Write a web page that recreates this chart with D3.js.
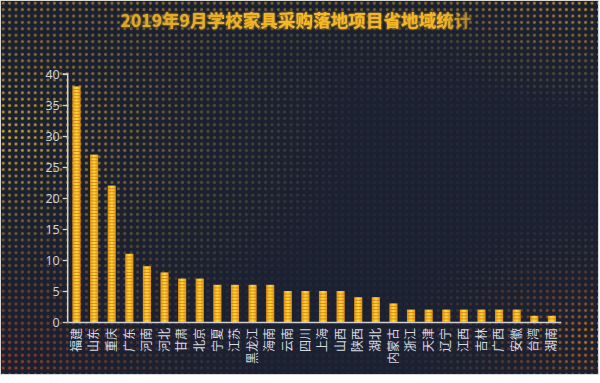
<!DOCTYPE html>
<html><head><meta charset="utf-8">
<script src="https://cdn.jsdelivr.net/npm/d3@7/dist/d3.min.js"></script>
<style>html,body{margin:0;padding:0;background:#fff;}svg{display:block;}</style>
</head><body>
<svg id="c" width="600" height="383"></svg>
<script>
const titleText = "2019年9月学校家具采购落地项目省地域统计";
const provinces = ["福建","山东","重庆","广东","河南","河北","甘肃","北京","宁夏","江苏","黑龙江","海南","云南","四川","上海","山西","陕西","湖北","内蒙古","浙江","天津","辽宁","江西","吉林","广西","安徽","台湾","湖南"];
const counts = [38,27,22,11,9,8,7,7,6,6,6,6,5,5,5,5,4,4,3,2,2,2,2,2,2,2,1,1];
const yTicks = [0,5,10,15,20,25,30,35,40];

const svg = d3.select("#c");
const defs = svg.append("defs");
const font = "'Noto Sans CJK SC','Noto Sans',sans-serif";

// frame
svg.append("rect").attr("x",0.5).attr("y",0.5).attr("width",598).attr("height",374)
  .attr("fill","#1c2131").attr("stroke","#d8d8d8");

// dot pattern
const pat = defs.append("pattern").attr("id","dots").attr("patternUnits","userSpaceOnUse")
  .attr("width",6.4).attr("height",6.4);
pat.append("circle").attr("cx",3.2).attr("cy",3.2).attr("r",1.5).attr("fill","#fff");
const mask = defs.append("mask").attr("id","dm");
mask.append("rect").attr("x",1).attr("y",1).attr("width",597).attr("height",373).attr("fill","url(#dots)");

function radial(id, cx, cy, r, stops){
  const g = defs.append("radialGradient").attr("id",id).attr("cx",cx).attr("cy",cy).attr("r",r);
  stops.forEach(s=>g.append("stop").attr("offset",s[0]).attr("stop-color",s[1]).attr("stop-opacity",s[2]));
}
radial("gTL","0","0.35","0.6",[["0","#d0a832",0.95],["0.5","#a88228",0.5],["1","#a07a28",0]]);
radial("gBL","0","1","0.45",[["0","#b4401c",0.9],["0.55","#9a4a1e",0.35],["1","#9a4a1e",0]]);
radial("gBR","1","0.9","0.33",[["0","#d8761c",0.95],["0.55","#a0501c",0.35],["1","#a0501c",0]]);
radial("gTR","1","0","0.3",[["0","#c08a2a",0.75],["1","#c08a2a",0]]);
const g4 = defs.append("linearGradient").attr("id","gT").attr("x1",0).attr("y1",0).attr("x2",0).attr("y2",1);
g4.append("stop").attr("offset","0").attr("stop-color","#b08a2a").attr("stop-opacity",0.65);
g4.append("stop").attr("offset","0.14").attr("stop-color","#8a6a28").attr("stop-opacity",0.2);
g4.append("stop").attr("offset","0.28").attr("stop-color","#8a6a28").attr("stop-opacity",0);

const dotG = svg.append("g").attr("mask","url(#dm)");
dotG.append("rect").attr("x",1).attr("y",1).attr("width",597).attr("height",373).attr("fill","#363b50").attr("opacity",0.3);
["gT","gTL","gBL","gBR","gTR"].forEach(id=>{
  dotG.append("rect").attr("x",1).attr("y",1).attr("width",597).attr("height",373).attr("fill",`url(#${id})`);
});

// title
const tg = defs.append("linearGradient").attr("id","tg").attr("gradientUnits","userSpaceOnUse")
  .attr("x1",117).attr("x2",478).attr("y1",0).attr("y2",0);
tg.append("stop").attr("offset","0").attr("stop-color","#dca52c");
tg.append("stop").attr("offset","0.5").attr("stop-color","#f7b925");
tg.append("stop").attr("offset","0.9").attr("stop-color","#f3b428");
tg.append("stop").attr("offset","1").attr("stop-color","#f3b428").attr("stop-opacity",0.25);
const flt = defs.append("filter").attr("id","glow").attr("x","-10%").attr("y","-50%").attr("width","120%").attr("height","200%");
flt.append("feGaussianBlur").attr("stdDeviation",1.2).attr("result","b");
const fm = flt.append("feMerge"); fm.append("feMergeNode").attr("in","b"); fm.append("feMergeNode").attr("in","SourceGraphic");
svg.append("text").attr("x",296).attr("y",27).attr("text-anchor","middle")
  .attr("font-family",font).attr("font-weight","bold").attr("font-size",17.6)
  .attr("fill","url(#tg)").attr("filter","url(#glow)").text(titleText);

// scales
const margin = {left:67.7, right:560.7, top:74, bottom:322};
const x = d3.scaleBand().domain(provinces).range([margin.left, margin.right]).paddingInner(0.54).paddingOuter(0.27);
const y = d3.scaleLinear().domain([0,40]).range([margin.bottom, margin.top]);

// bar gradient
const bg = defs.append("linearGradient").attr("id","barH").attr("x1",0).attr("x2",1).attr("y1",0).attr("y2",0);
bg.append("stop").attr("offset","0").attr("stop-color","#e8960f");
bg.append("stop").attr("offset","0.45").attr("stop-color","#ffd43c");
bg.append("stop").attr("offset","0.55").attr("stop-color","#ffd43c");
bg.append("stop").attr("offset","1").attr("stop-color","#e8960f");

const barsG = svg.append("g");
provinces.forEach((p,i)=>{
  const x0 = x(p), w = x.bandwidth(), y0 = y(counts[i]), h = y(0)-y(counts[i]);
  const gp = barsG.append("g");
  gp.append("rect").attr("x",x0).attr("y",y0).attr("width",w).attr("height",h).attr("fill","url(#barH)");
  const stripes = d3.range(y0+3.1, y(0), 3.1);
  gp.selectAll("line").data(stripes).join("line")
    .attr("x1",x0).attr("x2",x0+w).attr("y1",d=>d).attr("y2",d=>d)
    .attr("stroke","#c4700c").attr("stroke-width",0.9).attr("opacity",0.75);
});

// y axis
const yAxis = d3.axisLeft(y).tickValues(yTicks).tickSize(5).tickPadding(3);
const ya = svg.append("g").attr("transform",`translate(${margin.left},0)`).call(yAxis);
ya.select(".domain").attr("stroke","#d0d0d0").attr("stroke-width",1.5).attr("d",`M-5,${margin.top}H0V${margin.bottom}`);
ya.selectAll(".tick line").attr("stroke","#d0d0d0").attr("stroke-width",1.3);
ya.selectAll(".tick text").attr("fill","#cfd3dc").attr("font-size",12.5).attr("font-family","'Open Sans','Noto Sans',sans-serif");

// x axis
const xAxis = d3.axisBottom(x).tickSize(0).tickPadding(0);
const xa = svg.append("g").attr("transform",`translate(0,${margin.bottom})`).call(xAxis);
xa.select(".domain").attr("stroke","#d0d0d0").attr("stroke-width",1.5);
xa.selectAll(".tick text")
  .attr("fill","#d8dbe2").attr("font-size",12).attr("font-family",font)
  .attr("text-anchor","end").attr("dy","0.35em").attr("y",0)
  .attr("transform","translate(0,6) rotate(-90)");
</script>
</body></html>
